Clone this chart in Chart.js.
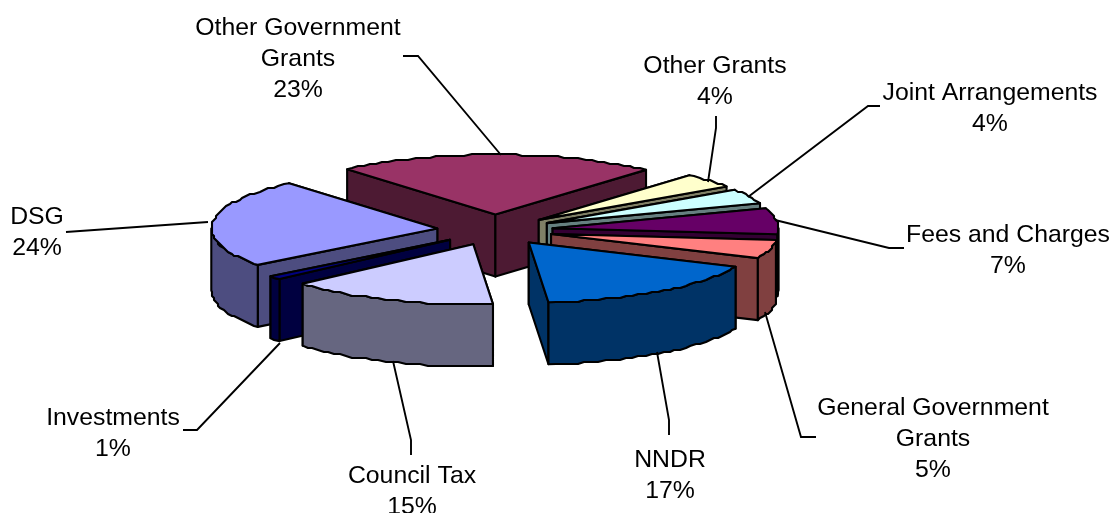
<!DOCTYPE html>
<html>
<head>
<meta charset="utf-8">
<title>Income by source</title>
<script src="https://cdn.jsdelivr.net/npm/chart.js@4"></script>
<style>
  html, body { margin: 0; padding: 0; background: #fff; overflow: hidden; }
  canvas { display: block; }
</style>
</head>
<body>
<canvas id="chart" width="1110" height="513"></canvas>
<script>
const categories = ["Other Government\nGrants", "Other Grants", "Joint Arrangements", "Fees and Charges",
  "General Government\nGrants", "NNDR", "Council Tax", "Investments", "DSG"];
const shares = [23, 4, 4, 7, 5, 17, 15, 1, 24];
const topColors = ["#993366", "#FFFFCC", "#CCFFFF", "#660066", "#FF8080", "#0066CC", "#CCCCFF", "#000080", "#9999FF"];
const wallColors = ["#4D1A33", "#808066", "#668080", "#330033", "#804040", "#003366", "#666680", "#000040", "#4D4D80"];

// label centre, first baseline, then the leader line from the text to the slice
const labelSpots = [
  { x: 298, y: 34.5, line: [[403, 56], [418, 56], [501, 155]] },
  { x: 715, y: 73, line: [[716, 116], [716, 128], [708, 182]] },
  { x: 990, y: 100, line: [[880, 106], [868, 106], [748, 197]] },
  { x: 1008, y: 242, line: [[904, 248], [889, 248], [775, 220]] },
  { x: 933, y: 415, line: [[816, 437], [801, 437], [765, 312]] },
  { x: 670, y: 466.5, line: [[669, 435], [669, 420], [657, 352]] },
  { x: 412, y: 483, line: [[411, 455], [411, 440], [393, 361]] },
  { x: 113, y: 425, line: [[183, 430], [197, 430], [280, 343]] },
  { x: 37, y: 224, line: [[66, 232], [80, 231], [208, 222]] }
];

const SQUASH = 60 / 226;   // flattening of the pie plane
const DEPTH = 62;          // height of the slices
const LINE_GAP = 31;

function snap(v) {
  return Math.round(v / 2) * 2;
}

// Points along a slice rim, stepped a little like a low-res vector export
function rimPoints(arc, from, to, drop) {
  const off = arc.options.offset;
  const mid = (arc.startAngle + arc.endAngle) / 2;
  const ox = arc.x + Math.cos(mid) * off;
  const oy = Math.sin(mid) * off;
  const at = a => [ox + Math.cos(a) * arc.outerRadius,
    arc.y + (oy + Math.sin(a) * arc.outerRadius) * SQUASH + drop];
  const steps = Math.max(2, Math.round(Math.abs(to - from) / 0.032));
  const pts = [at(from)];
  for (let i = 1; i < steps; i++) {
    const p = at(from + (to - from) * i / steps);
    pts.push([snap(p[0]), snap(p[1])]);
  }
  pts.push(at(to));
  return pts;
}

function apexOf(arc) {
  const mid = (arc.startAngle + arc.endAngle) / 2;
  return [arc.x + Math.cos(mid) * arc.options.offset,
    arc.y + Math.sin(mid) * arc.options.offset * SQUASH];
}

function fillShape(ctx, pts, color) {
  ctx.beginPath();
  pts.forEach((p, i) => i ? ctx.lineTo(p[0], p[1]) : ctx.moveTo(p[0], p[1]));
  ctx.closePath();
  ctx.fillStyle = color;
  ctx.fill();
  ctx.stroke();
}

function drawSlice(ctx, arc, index) {
  const apex = apexOf(arc);
  const rim = rimPoints(arc, arc.startAngle, arc.endAngle, 0);
  const wall = wallColors[index];

  // the two cut faces, the one further back first
  const faces = [rim[0], rim[rim.length - 1]].sort((a, b) => a[1] - b[1]);
  faces.forEach(p => {
    fillShape(ctx, [apex, p, [p[0], p[1] + DEPTH], [apex[0], apex[1] + DEPTH]], wall);
  });

  // outer wall, only where the rim faces the viewer
  for (let k = -1; k <= 1; k++) {
    const from = Math.max(arc.startAngle, k * 2 * Math.PI);
    const to = Math.min(arc.endAngle, k * 2 * Math.PI + Math.PI);
    if (to > from) {
      const upper = rimPoints(arc, from, to, 0);
      const lower = rimPoints(arc, to, from, DEPTH);
      fillShape(ctx, upper.concat(lower), wall);
    }
  }

  fillShape(ctx, [apex].concat(rim), topColors[index]);
}

const pie3d = {
  id: "pie3d",
  beforeDatasetsDraw(chart) {
    const ctx = chart.ctx;
    const arcs = chart.getDatasetMeta(0).data;
    const order = arcs.map((a, i) => i).sort((a, b) => {
      const depth = arc => Math.sin((arc.startAngle + arc.endAngle) / 2);
      return depth(arcs[a]) - depth(arcs[b]);
    });
    ctx.save();
    ctx.lineWidth = 2.1;
    ctx.lineJoin = "round";
    ctx.strokeStyle = "#000";
    order.forEach(i => drawSlice(ctx, arcs[i], i));
    ctx.restore();
    return false;
  },
  afterDraw(chart) {
    const ctx = chart.ctx;
    ctx.save();
    ctx.strokeStyle = "#000";
    ctx.lineWidth = 1.9;
    labelSpots.forEach(spot => {
      ctx.beginPath();
      spot.line.forEach((p, i) => i ? ctx.lineTo(p[0], p[1]) : ctx.moveTo(p[0], p[1]));
      ctx.stroke();
    });
    ctx.fillStyle = "#000";
    ctx.font = "24.8px 'Liberation Sans', Arial, sans-serif";
    ctx.textAlign = "center";
    ctx.textBaseline = "alphabetic";
    categories.forEach((name, i) => {
      const lines = name.split("\n").concat(shares[i] + "%");
      lines.forEach((text, n) => ctx.fillText(text, labelSpots[i].x, labelSpots[i].y + n * LINE_GAP));
    });
    ctx.restore();
  }
};

new Chart(document.getElementById("chart"), {
  type: "pie",
  data: {
    labels: categories,
    datasets: [{
      data: shares,
      backgroundColor: topColors,
      offset: 58
    }]
  },
  options: {
    responsive: false,
    animation: false,
    rotation: -41,
    radius: 226,
    layout: { padding: { left: 0, right: 120, top: 0, bottom: 53 } },
    plugins: {
      legend: { display: false },
      tooltip: { enabled: false }
    }
  },
  plugins: [pie3d]
});
</script>
</body>
</html>
